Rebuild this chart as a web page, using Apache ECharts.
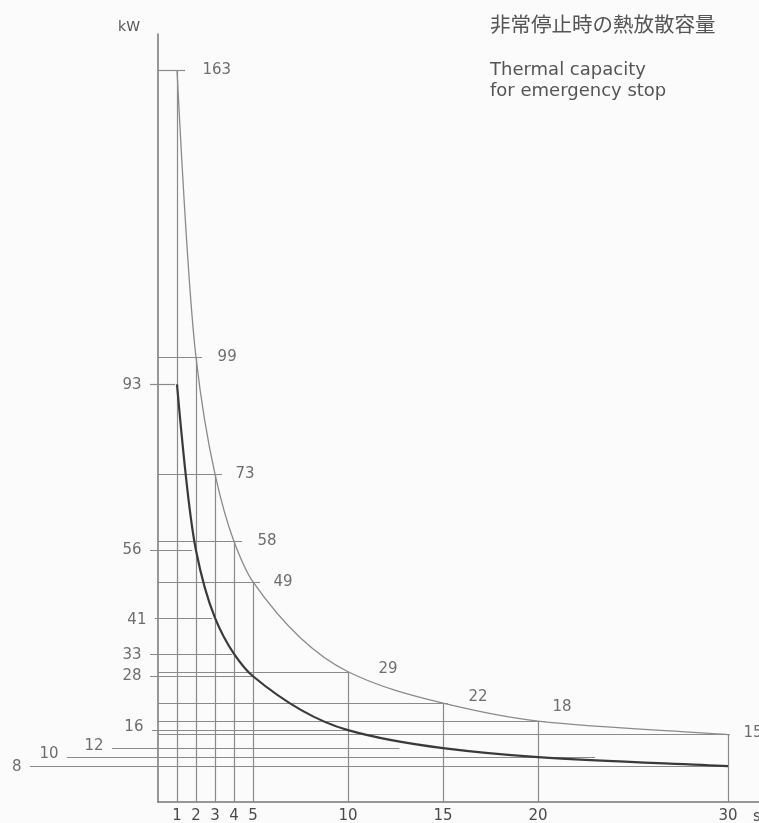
<!DOCTYPE html>
<html>
<head>
<meta charset="utf-8">
<script src="https://cdn.jsdelivr.net/npm/echarts@6/dist/echarts.min.js"></script>
<style>
  html, body { margin: 0; padding: 0; background: #fbfbfb; }
  #chart { width: 759px; height: 823px; }
</style>
</head>
<body>
<div id="chart"></div>
<script>
// ---- data ----
const times = [1, 2, 3, 4, 5, 10, 15, 20, 30];              // s
const upperKW = [163, 99, 73, 58, 49, 29, 22, 18, 15];     // thin curve
const lowerKW = [93, 56, 41, 33, 28, 16, 12, 10, 8];       // thick curve
const xTickLabels = [1, 2, 3, 4, 5, 10, 15, 20, 30];
// extents of the reference (leader) lines, in axis units
const upperLineEnd = [1.42, 2.32, 3.37, 4.42, 5.37, 10, 15.26, 20.37, 30.1];
const lowerLineStart = [-0.42, -0.42, -0.16, -0.42, -0.42, -0.32, -2.42, -4.79, -6.74];
const lowerLineEnd = [0.9, 1.8, 2.85, 3.9, 5, 10, 12.7, 23, 30];

// ---- layout (pixels) ----
const upperLabelOffset = [[3,0],[1,0],[-1,0],[1,0],[-1,0],[16,-3],[6,-6],[-7,-14],[-1,-2]];
const lowerLabelOffset = [[0,1],[0,0],[0,2],[0,1],[0,0],[0,-3],[0,-2],[0,-3],[0,1]];

const GRID_COLOR = '#8a8a8a';
const TEXT_COLOR = '#555';
const NUM_FONT = { fontFamily: 'DejaVu Sans', fontSize: 15, color: '#4a4a4a' };

const hUpper = times.map((t, i) => ({ coords: [[0, upperKW[i]], [upperLineEnd[i], upperKW[i]]] }));
const vLines = times.map((t, i) => ({ coords: [[t, upperKW[i]], [t, 0]] }));
const hLower = lowerKW.map((v, i) => ({ coords: [[lowerLineStart[i], v], [lowerLineEnd[i], v]] }));

// Monotone cubic (Fritsch–Carlson) curve through the data points, mapped via the axes
function monotonePath(xs, ys, api) {
  const n = xs.length;
  const h = [], d = [];
  for (let i = 0; i < n - 1; i++) { h[i] = xs[i + 1] - xs[i]; d[i] = (ys[i + 1] - ys[i]) / h[i]; }
  const m = new Array(n);
  m[0] = ((2 * h[0] + h[1]) * d[0] - h[0] * d[1]) / (h[0] + h[1]);
  m[n - 1] = d[n - 2];
  for (let i = 1; i < n - 1; i++) {
    if (d[i - 1] * d[i] <= 0) { m[i] = 0; continue; }
    const w1 = 2 * h[i] + h[i - 1], w2 = h[i] + 2 * h[i - 1];
    m[i] = (w1 + w2) / (w1 / d[i - 1] + w2 / d[i]);
  }
  const p0 = api.coord([xs[0], ys[0]]);
  let path = 'M' + p0[0] + ' ' + p0[1];
  for (let i = 0; i < n - 1; i++) {
    const c1 = api.coord([xs[i] + h[i] / 3, ys[i] + m[i] * h[i] / 3]);
    const c2 = api.coord([xs[i + 1] - h[i] / 3, ys[i + 1] - m[i + 1] * h[i] / 3]);
    const p = api.coord([xs[i + 1], ys[i + 1]]);
    path += ' C' + c1[0] + ' ' + c1[1] + ' ' + c2[0] + ' ' + c2[1] + ' ' + p[0] + ' ' + p[1];
  }
  return path;
}
function curveSeries(ys, color, width, z) {
  return {
    type: 'custom', coordinateSystem: 'cartesian2d', silent: true, z: z,
    data: times.map((t, i) => [t, ys[i]]),
    encode: { x: 0, y: 1 },
    renderItem: function (params, api) {
      if (params.dataIndex !== 0) return null;
      return {
        type: 'path',
        shape: { pathData: monotonePath(times, ys, api) },
        style: { fill: 'none', stroke: color, lineWidth: width }
      };
    }
  };
}

const chart = echarts.init(document.getElementById('chart'), null, { renderer: 'canvas' });
chart.setOption({
  animation: false,
  backgroundColor: '#fbfbfb',
  title: {
    text: '非常停止時の熱放散容量',
    subtext: 'Thermal capacity\nfor emergency stop',
    left: 490, top: 14, padding: 0, itemGap: 25,
    textStyle: { fontFamily: 'Noto Sans CJK JP', fontSize: 20.5, fontWeight: 'normal', color: TEXT_COLOR },
    subtextStyle: { fontFamily: 'DejaVu Sans', fontSize: 18, lineHeight: 21, color: TEXT_COLOR }
  },
  grid: { left: 158, right: 0, top: 34, bottom: 21, containLabel: false, outerBoundsMode: 'none' },
  xAxis: {
    type: 'value', min: 0, max: 31.63, interval: 1,
    axisLine: { show: true, lineStyle: { color: '#777', width: 1.5 } },
    axisTick: { show: false },
    splitLine: { show: false },
    axisLabel: {
      margin: 7, fontFamily: 'DejaVu Sans', fontSize: 15, color: '#4a4a4a',
      showMinLabel: true, showMaxLabel: true, hideOverlap: false,
      formatter: v => (xTickLabels.indexOf(v) >= 0 ? String(v) : '')
    },
    name: 's', nameLocation: 'end', nameGap: -6,
    nameTextStyle: { fontFamily: 'DejaVu Sans', fontSize: 15, color: '#4a4a4a', align: 'left', verticalAlign: 'top', padding: [8, 0, 0, 0] }
  },
  yAxis: {
    type: 'value', min: 0, max: 171,
    axisLine: { show: true, onZero: false, lineStyle: { color: '#777', width: 1.5 } },
    axisTick: { show: false },
    axisLabel: { show: false },
    splitLine: { show: false },
    name: 'kW', nameLocation: 'end', nameGap: 7,
    nameTextStyle: { fontFamily: 'DejaVu Sans', fontSize: 14, color: TEXT_COLOR, align: 'right', verticalAlign: 'middle', padding: [0, 18, 0, 0] }
  },
  series: [
    {
      type: 'lines', coordinateSystem: 'cartesian2d', silent: true, clip: false, z: 2,
      lineStyle: { color: GRID_COLOR, width: 1.2, opacity: 1 },
      data: hUpper.concat(vLines, hLower)
    },
    curveSeries(upperKW, '#8a8a8a', 1.3, 3),
    curveSeries(lowerKW, '#3a3a3a', 2.2, 4),
    {
      type: 'scatter', symbolSize: 1, itemStyle: { color: 'rgba(0,0,0,0)' }, clip: false, silent: true, z: 5,
      data: times.map((t, i) => ({ value: [upperLineEnd[i], upperKW[i]], label: { offset: upperLabelOffset[i] } })),
      label: Object.assign({ show: true, position: 'right', distance: 14, formatter: p => String(p.value[1]) }, NUM_FONT)
    },
    {
      type: 'scatter', symbolSize: 1, itemStyle: { color: 'rgba(0,0,0,0)' }, clip: false, silent: true, z: 5,
      data: lowerKW.map((v, i) => ({ value: [lowerLineStart[i], v], label: { offset: lowerLabelOffset[i] } })),
      label: Object.assign({ show: true, position: 'left', distance: 8, formatter: p => String(p.value[1]) }, NUM_FONT)
    }
  ]
});
</script>
</body>
</html>
